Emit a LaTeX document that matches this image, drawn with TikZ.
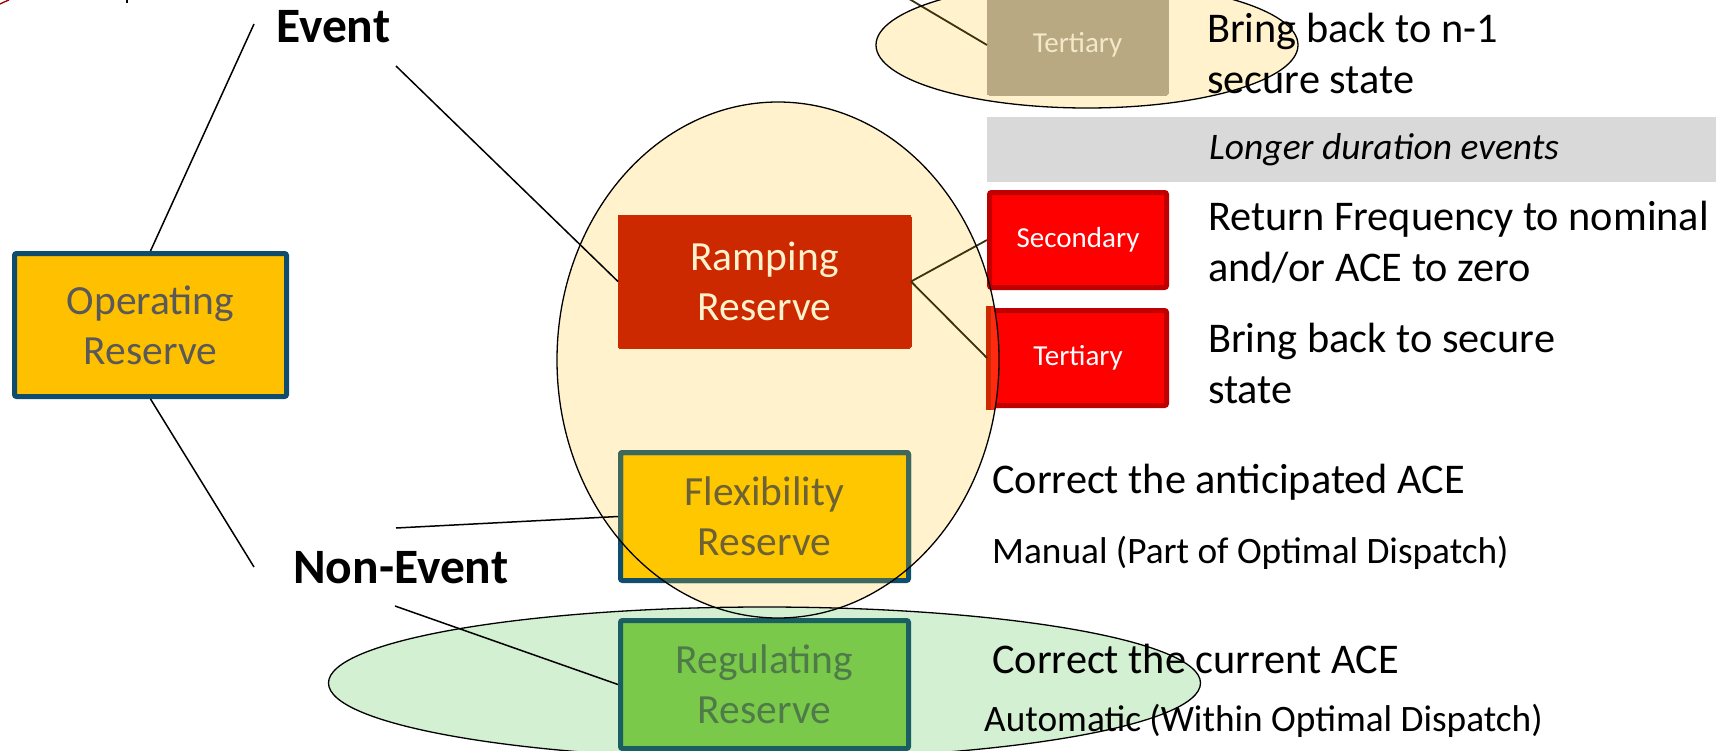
\documentclass[tikz,border=0pt]{standalone}
\usepackage{fontspec}
\setmainfont{Carlito}
\definecolor{opfill}{HTML}{FFC000}
\definecolor{opline}{HTML}{0F4C6E}
\definecolor{optext}{HTML}{595959}
\definecolor{rampfill}{HTML}{CC2900}
\definecolor{cream}{HTML}{FFF2CC}
\definecolor{flexfill}{HTML}{FFC700}
\definecolor{flexline}{HTML}{3D685B}
\definecolor{flextext}{HTML}{6D6236}
\definecolor{regfill}{HTML}{7BC94B}
\definecolor{regline}{HTML}{1A5E62}
\definecolor{regtext}{HTML}{4F7B48}
\definecolor{redfill}{HTML}{FF0000}
\definecolor{redline}{HTML}{C00000}
\definecolor{tintred}{HTML}{FF2A10}
\definecolor{tanfill}{HTML}{B8A982}
\definecolor{tantext}{HTML}{F3E8C8}
\definecolor{greenell}{HTML}{D3F0D3}
\definecolor{band}{HTML}{D9D9D9}
\definecolor{olive}{HTML}{3A3210}
\begin{document}
\begin{tikzpicture}[x=1pt,y=-1pt,
  bigbox/.style={rectangle, rounded corners=2pt, line width=5pt, align=center, inner sep=0pt,
    font=\fontsize{41.5}{50}\selectfont},
  smallbox/.style={rectangle, rounded corners=2pt, line width=5pt, align=center, inner sep=0pt,
    minimum width=177pt, minimum height=95pt, font=\fontsize{29}{34}\selectfont},
  desc/.style={anchor=base west, inner sep=0pt, font=\fontsize{42.3}{50}\selectfont},
  subdesc/.style={anchor=base west, inner sep=0pt, font=\fontsize{37.3}{44}\selectfont},
  head/.style={anchor=base west, inner sep=0pt, font=\fontsize{49.5}{56}\selectfont\bfseries},
  conn/.style={line width=1.5pt, black},
  oconn/.style={line width=1.8pt, olive},
  ell/.style={line width=1.3pt, black}
]
\useasboundingbox (0,0) rectangle (1716,750);

% ellipse fills
\fill[cream] (778,360) ellipse [x radius=221, y radius=258];
\fill[cream] (1087,45) ellipse [x radius=211, y radius=63];
\fill[greenell] (764.5,683) ellipse [x radius=436, y radius=76];

% grey band
\fill[band] (987,117) rectangle (1716,182);

% top-left fragments
\draw[line width=1.3pt, red!60!black] (0,4) .. controls (3,2.5) .. (9,0);
\draw[line width=2pt, black] (127,0) -- (127,3);

% boxes
\node[bigbox, fill=opfill, draw=opline, text=optext, minimum width=272pt, minimum height=143pt]
  (op) at (150.5,325) {Operating\\Reserve};
\node[bigbox, fill=rampfill, draw=rampfill, line width=0pt, text=cream, minimum width=293pt, minimum height=133pt]
  (ramp) at (764.5,281.5) {Ramping\\Reserve};
\node[bigbox, fill=flexfill, draw=opline, text=flextext, minimum width=288pt, minimum height=128pt]
  (flex) at (764.5,516.5) {Flexibility\\Reserve};
\begin{scope}
  \clip (778,360) ellipse [x radius=221, y radius=258];
  \draw[line width=5pt, flexline, rounded corners=2pt] (620.5,452.5) rectangle (908.5,580.5);
\end{scope}
\node[bigbox, fill=regfill, draw=regline, text=regtext, minimum width=288pt, minimum height=128pt]
  (reg) at (764.5,684.5) {Regulating\\Reserve};
\node[smallbox, fill=redfill, draw=redline, text=white] (sec) at (1078,240) {\raisebox{-3pt}{Secondary}};
\node[smallbox, fill=redfill, draw=redline, text=white] (ter) at (1078,358) {\raisebox{-2pt}{Tertiary}};
\begin{scope}
  \clip (778,360) ellipse [x radius=221, y radius=258];
  \fill[tintred] (986,306) rectangle (1002,410);
  \fill[rampfill] (986,306) rectangle (991,410);
\end{scope}
\node[smallbox, fill=tanfill, draw=tanfill, line width=0pt, text=tantext, minimum width=181pt, minimum height=100pt]
  (ttop) at (1077.5,45) {\raisebox{-3pt}{Tertiary}};

% connector end points
\coordinate (e1) at (254,24);
\coordinate (e2) at (396,66);
\coordinate (n1) at (254,567);
\coordinate (n2) at (396,528);
\coordinate (n3) at (395,606);
\coordinate (t0) at (840,-42);

% connectors
\draw[conn] (op.north) -- (e1);
\draw[conn] (op.south) -- (n1);
\draw[conn] (e2) -- (ramp.west);
\draw[conn] (n2) -- (flex.west);
\draw[conn] (n3) -- (reg.west);
\draw[oconn] (ramp.east) -- (sec.west);
\draw[oconn] (ramp.east) -- (ter.west);
\draw[oconn] (t0) -- (ttop.west);

% labels
\node[head] (ev) at (276,42) {Event};
\node[head] (nev) at (293,583) {Non-Event};

\node[desc] (d1a) at (1207,42) {Bring back to n-1};
\node[desc] (d1b) at (1207,93) {secure state};
\node[subdesc, font=\fontsize{37.5}{44}\selectfont\itshape] (ld) at (1209,159) {Longer duration events};
\node[desc] (d2a) at (1208,230) {Return Frequency to nominal};
\node[desc] (d2b) at (1208,281) {and/or ACE to zero};
\node[desc] (d3a) at (1208,352) {Bring back to secure};
\node[desc] (d3b) at (1208,403) {state};
\node[desc] (d4) at (992,493) {Correct the anticipated ACE};
\node[subdesc] (d5) at (992,563) {Manual (Part of Optimal Dispatch)};
\node[desc] (d6) at (992,673) {Correct the current ACE};
\node[subdesc] (d7) at (984,731) {Automatic (Within Optimal Dispatch)};

% ellipse outlines on top
\draw[ell] (778,360) ellipse [x radius=221, y radius=258];
\draw[ell] (1087,45) ellipse [x radius=211, y radius=63];
\draw[ell] (764.5,683) ellipse [x radius=436, y radius=76];
\end{tikzpicture}
\end{document}
